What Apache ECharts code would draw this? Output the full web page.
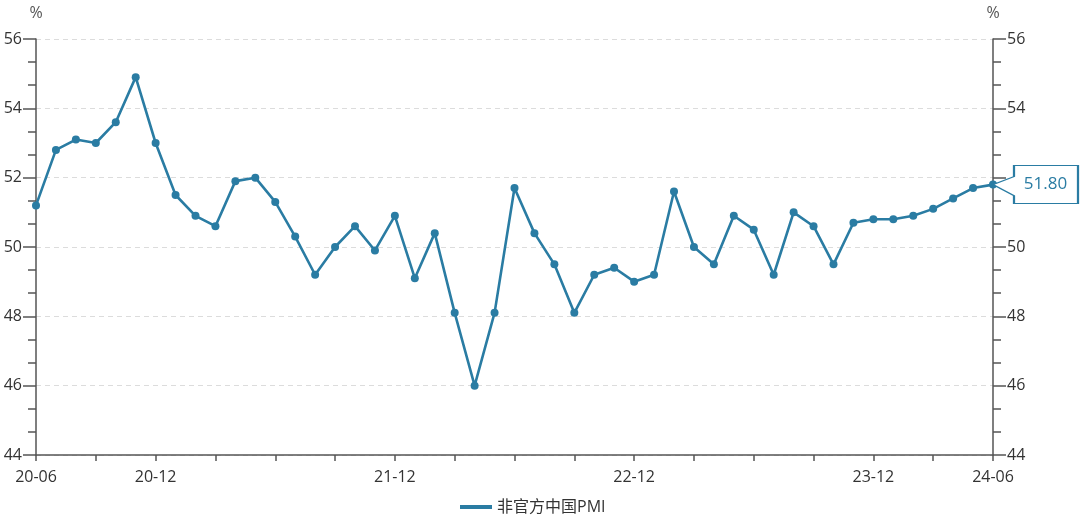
<!DOCTYPE html>
<html>
<head>
<meta charset="utf-8">
<script src="https://cdn.jsdelivr.net/npm/echarts@6/dist/echarts.min.js"></script>
<style>html,body{margin:0;padding:0;background:#fff;}#c{width:1080px;height:522px;}</style>
</head>
<body>
<div id="c"></div>
<script>
var categories = ["20-06","20-07","20-08","20-09","20-10","20-11","20-12",
"21-01","21-02","21-03","21-04","21-05","21-06","21-07","21-08","21-09","21-10","21-11","21-12",
"22-01","22-02","22-03","22-04","22-05","22-06","22-07","22-08","22-09","22-10","22-11","22-12",
"23-01","23-02","23-03","23-04","23-05","23-06","23-07","23-08","23-09","23-10","23-11","23-12",
"24-01","24-02","24-03","24-04","24-05","24-06"];
var pmiValues = [51.2,52.8,53.1,53.0,53.6,54.9,53.0,
51.5,50.9,50.6,51.9,52.0,51.3,50.3,49.2,50.0,50.6,49.9,50.9,
49.1,50.4,48.1,46.0,48.1,51.7,50.4,49.5,48.1,49.2,49.4,49.0,
49.2,51.6,50.0,49.5,50.9,50.5,49.2,51.0,50.6,49.5,50.7,50.8,
50.8,50.9,51.1,51.4,51.7,51.8];
var shownLabels = ["20-06","20-12","21-12","22-12","23-12","24-06"];
var seriesName = "非官方中国PMI";
var yMin = 44, yMax = 56, yInterval = 2;

var color = "#2a7ca3";
var font = "'Open Sans','Noto Sans CJK SC',sans-serif";
var axisColor = "#555";
var textColor = "#333";
var lastValue = pmiValues[pmiValues.length - 1];

function yAxisCfg(pos) {
  return {
    type: 'value', position: pos, min: yMin, max: yMax, interval: yInterval,
    name: '%', nameLocation: 'end', nameGap: 18,
    nameTextStyle: {color: '#555', fontSize: 16, fontFamily: font, align: 'center'},
    axisLine: {show: true, lineStyle: {color: axisColor, width: 1.5}},
    axisTick: {show: true, length: 13, lineStyle: {color: axisColor, width: 1.5}},
    minorTick: {show: true, splitNumber: 3, length: 8, lineStyle: {color: axisColor, width: 1.5}},
    axisLabel: {
      color: textColor, fontSize: 16, fontFamily: font, margin: 14,
      formatter: function (v) {
        // right-side label hidden behind the end-value callout
        if (pos === 'right' && Math.abs(v - Math.round(lastValue)) < 1e-9) return '';
        return String(v);
      }
    },
    splitLine: {show: pos === 'left', lineStyle: {color: '#dcdcdc', type: [5, 4], width: 1}}
  };
}

var chart = echarts.init(document.getElementById('c'));
chart.setOption({
  animation: false,
  backgroundColor: '#fff',
  grid: {left: 36, right: 87, top: 39, bottom: 67, containLabel: false},
  legend: {
    bottom: 2, left: 455, itemWidth: 32, itemHeight: 4, itemGap: 8,
    icon: 'rect',
    textStyle: {color: textColor, fontSize: 16, fontFamily: font},
    data: [{name: seriesName, icon: 'rect'}]
  },
  xAxis: {
    type: 'category', data: categories, boundaryGap: false,
    axisLine: {lineStyle: {color: axisColor, width: 1.5}},
    axisTick: {show: true, length: 6, interval: function (i) { return i % 3 === 0; }, lineStyle: {color: axisColor, width: 1.5}},
    axisLabel: {
      color: textColor, fontSize: 16, fontFamily: font, margin: 14,
      interval: function (i, v) { return shownLabels.indexOf(v) >= 0; },
      showMaxLabel: true
    },
    splitLine: {show: false}
  },
  yAxis: [yAxisCfg('left'), yAxisCfg('right')],
  series: [{
    name: seriesName, type: 'line', data: pmiValues,
    symbol: 'circle', symbolSize: 8, showSymbol: true,
    lineStyle: {color: color, width: 2.6},
    itemStyle: {color: color},
    markPoint: {
      symbol: 'path://M0,19 L21,11 L21,0 L85,0 L85,38 L21,38 L21,30 Z',
      symbolSize: [85, 38],
      symbolOffset: [42.5, 0],
      symbolKeepAspect: false,
      itemStyle: {color: '#fff', borderColor: color, borderWidth: 1.5},
      label: {
        show: true, position: 'inside', offset: [10, 0],
        color: color, fontSize: 17, fontFamily: font,
        formatter: function (p) { return p.value.toFixed(2); }
      },
      data: [{coord: [categories.length - 1, lastValue], value: lastValue}]
    }
  }]
});
</script>
</body>
</html>
